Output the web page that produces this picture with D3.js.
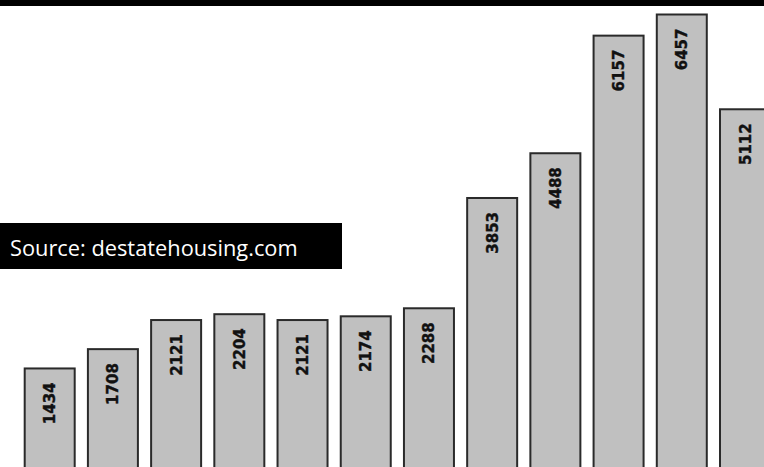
<!DOCTYPE html>
<html>
<head>
<meta charset="utf-8">
<script src="https://cdn.jsdelivr.net/npm/d3@7"></script>
<style>
  html, body { margin: 0; padding: 0; background: #fff; overflow: hidden; }
  svg { display: block; }
</style>
</head>
<body>
<svg id="chart" width="764" height="467"></svg>
<script>
// Yearly counts, one bar each
const categories = ["b1", "b2", "b3", "b4", "b5", "b6", "b7", "b8", "b9", "b10", "b11", "b12"];
const values = [1434, 1708, 2121, 2204, 2121, 2174, 2288, 3853, 4488, 6157, 6457, 5112];
const sourceText = "Source: destatehousing.com";

const W = 764, H = 467;
const svg = d3.select("#chart");

const x = d3.scaleBand()
  .domain(categories)
  .range([24.7, 770])
  .paddingInner(0.209)
  .paddingOuter(0);

const y = d3.scaleLinear()
  .domain([0, 6457])
  .range([469.5, 14.5]);

// black strip along the top edge
svg.append("rect")
  .attr("x", 0).attr("y", 0)
  .attr("width", W).attr("height", 6)
  .attr("fill", "#000");

const bars = svg.append("g");
bars.selectAll("rect")
  .data(values)
  .join("rect")
  .attr("x", (d, i) => x(categories[i]))
  .attr("y", d => y(d))
  .attr("width", x.bandwidth())
  .attr("height", d => y(0) - y(d) + 10)
  .attr("fill", "#c0c0c0")
  .attr("stroke", "#2a2a2a")
  .attr("stroke-width", 2);

// value labels, rotated, hanging from the top of each bar
bars.selectAll("text")
  .data(values)
  .join("text")
  .attr("transform", (d, i) => {
    const cx = x(categories[i]) + x.bandwidth() / 2 + 5.5;
    const ty = y(d) + 14;
    return `translate(${cx},${ty}) rotate(-90)`;
  })
  .attr("text-anchor", "end")
  .attr("font-family", "'DejaVu Sans', Verdana, sans-serif")
  .attr("font-weight", "bold")
  .attr("font-size", "15px")
  .attr("fill", "#111")
  .attr("stroke", "#111")
  .attr("stroke-width", 0.4)
  .text(d => d);

// source box
const src = svg.append("g");
src.append("rect")
  .attr("x", 0).attr("y", 223)
  .attr("width", 342).attr("height", 46)
  .attr("fill", "#000");
src.append("text")
  .attr("x", 10).attr("y", 256)
  .attr("font-family", "'Open Sans', sans-serif")
  .attr("font-size", "21.8px")
  .attr("fill", "#fff")
  .text(sourceText);
</script>
</body>
</html>
